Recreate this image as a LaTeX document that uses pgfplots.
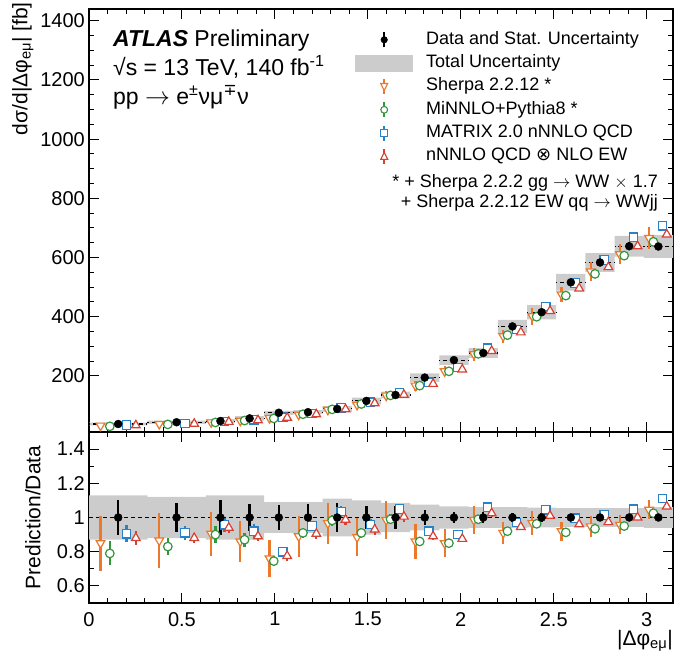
\documentclass[border=0pt]{standalone}
\usepackage{fontspec}
\setmainfont{Liberation Sans}
\newfontfamily\dejavu{DejaVu Sans}
\usepackage{pgfplots}
\pgfplotsset{compat=1.18}
\usepackage{pgfplotstable}
\usepgfplotslibrary{fillbetween}

\definecolor{cSh}{RGB}{236,120,44}
\definecolor{cMi}{RGB}{50,150,60}
\definecolor{cMa}{RGB}{40,130,200}
\definecolor{cNN}{RGB}{215,65,50}

\pgfplotstableread{
x hw d s xs xg xb xr rs es rg eg rb eb rr er ps pg pb pr one
0.157 0.157 37 0.10 0.062 0.112 0.202 0.252 0.85 0.16 0.79 0.07 0.905 0.05 0.88 0.04 31.5 29.2 33.5 32.6 1
0.471 0.157 43 0.085 0.378 0.424 0.516 0.566 0.865 0.16 0.83 0.05 0.91 0.04 0.88 0.03 37.2 35.7 39.1 37.8 1
0.707 0.0785 47 0.10 0.657 0.680 0.729 0.752 0.905 0.13 0.90 0.05 0.957 0.04 0.94 0.03 42.5 42.3 45.0 44.2 1
0.864 0.0785 56 0.08 0.814 0.837 0.886 0.909 0.86 0.12 0.87 0.04 0.92 0.04 0.89 0.03 48.2 48.7 51.5 49.8 1
1.021 0.0785 75 0.072 0.971 0.994 1.043 1.066 0.76 0.11 0.745 0.03 0.80 0.03 0.775 0.03 57.0 55.9 60.0 58.1 1
1.178 0.0785 77 0.078 1.128 1.151 1.200 1.223 0.89 0.12 0.91 0.03 0.95 0.03 0.905 0.03 68.5 70.1 73.2 69.7 1
1.335 0.0785 88 0.085 1.285 1.308 1.357 1.380 0.967 0.12 0.983 0.03 1.035 0.03 0.987 0.03 85.1 86.5 91.1 86.9 1
1.492 0.0785 115 0.066 1.442 1.465 1.514 1.537 0.885 0.11 0.91 0.03 0.96 0.03 0.93 0.03 101.8 104.7 110.4 107.0 1
1.649 0.0785 135 0.07 1.599 1.622 1.671 1.694 0.985 0.11 0.99 0.03 1.05 0.03 1.005 0.03 133.0 133.7 141.8 135.7 1
1.806 0.0785 194 0.045 1.756 1.779 1.828 1.851 0.86 0.10 0.86 0.025 0.92 0.025 0.89 0.02 166.8 166.8 178.5 172.7 1
1.963 0.0785 253 0.035 1.913 1.936 1.985 2.008 0.85 0.08 0.85 0.02 0.90 0.02 0.875 0.02 215.1 215.1 227.7 221.4 1
2.121 0.0785 277 0.03 2.071 2.094 2.143 2.166 0.985 0.08 0.99 0.02 1.06 0.02 1.025 0.02 272.8 274.2 293.6 283.9 1
2.278 0.0785 367 0.025 2.228 2.251 2.300 2.323 0.91 0.065 0.92 0.02 0.97 0.02 0.945 0.015 334.0 337.6 356.0 346.8 1
2.435 0.0785 415 0.025 2.385 2.408 2.457 2.480 0.967 0.07 0.963 0.02 1.045 0.02 1.01 0.015 401.3 399.6 433.7 419.2 1
2.592 0.0785 516 0.02 2.542 2.565 2.614 2.637 0.92 0.055 0.913 0.015 0.996 0.015 0.96 0.015 474.7 471.1 513.9 495.4 1
2.749 0.0785 583 0.02 2.699 2.722 2.771 2.794 0.948 0.06 0.934 0.015 1.015 0.015 0.973 0.015 552.7 544.5 591.7 567.3 1
2.906 0.0785 638 0.02 2.856 2.879 2.928 2.951 0.957 0.055 0.95 0.015 1.048 0.015 1.0 0.015 610.6 606.1 668.6 638.0 1
3.063 0.0785 637 0.02 3.013 3.036 3.085 3.108 1.045 0.055 1.025 0.015 1.11 0.015 1.064 0.015 665.7 652.9 707.1 677.8 1
}\tab

\pgfplotstableread{
xl tlo thi rlo rhi
0 32.2 41.8 0.87 1.13
0.3142 37.8 48.2 0.88 1.12
0.6283 40.9 53.1 0.87 1.13
0.7854 48.7 63.3 0.87 1.13
0.9425 68.3 81.8 0.91 1.09
1.0996 70.1 83.9 0.91 1.09
1.2566 78.3 97.7 0.89 1.11
1.4137 103.5 126.5 0.90 1.10
1.5708 123.5 146.5 0.915 1.085
1.7279 179.5 208.5 0.925 1.075
1.8850 236.6 269.4 0.935 1.065
2.0420 260.4 293.6 0.94 1.06
2.1991 345.0 389.0 0.94 1.06
2.3562 390.9 439.1 0.942 1.058
2.5133 487.6 544.4 0.945 1.055
2.6704 550.9 615.1 0.945 1.055
2.8274 602.9 673.1 0.945 1.055
2.9845 598.8 675.2 0.94 1.06
3.1416 598.8 675.2 0.94 1.06
}\band

\pgfplotsset{
  common/.style={
    scale only axis, width=584pt,
    xmin=0, xmax=3.1416,
    xtick={0,0.5,1,1.5,2,2.5,3}, minor x tick num=4,
    tick align=inside,
    major tick length=10pt, minor tick length=5pt,
    every tick/.style={black, line width=1pt},
    axis line style={line width=1.3pt},
    tick label style={font=\fontsize{20}{24}\selectfont, inner sep=0pt},
    yticklabel style={xshift=-4pt},
    xticklabel style={yshift=-9pt},
    /pgf/number format/assume math mode=true,
    /pgf/number format/1000 sep={},
    clip=false,
  },
  ebar/.style={error bars/y dir=both, error bars/error mark=none,
    error bars/error bar style={line width=#1}},
  shmk/.style={cSh, only marks, mark=triangle*, mark size=5pt, mark options={rotate=180, fill=white, line width=1.2pt}, ebar=2.2pt},
  mimk/.style={cMi, only marks, mark=*, mark size=4.3pt, mark options={fill=white, line width=1.2pt}, ebar=2.2pt},
  mamk/.style={cMa, only marks, mark=square*, mark size=4.2pt, mark options={fill=white, line width=1.2pt}, ebar=2.2pt},
  nnmk/.style={cNN, only marks, mark=triangle*, mark size=5pt, mark options={fill=white, line width=1.2pt}, ebar=2.2pt},
  dtmk/.style={black, only marks, mark=*, mark size=4pt, ebar=2.4pt},
}

\begin{document}
\begin{tikzpicture}
% ---------------- top panel
\begin{axis}[common, at={(89pt,232pt)}, anchor=south west, height=423pt,
  ymin=10, ymax=1440, ytick={200,400,600,800,1000,1200,1400}, minor y tick num=3,
  xticklabels={},
  legend style={at={(axis description cs:0.4555,0.948)}, anchor=north west, draw=none, fill=none,
    inner sep=0pt, font=\fontsize{18}{21}\selectfont, row sep=6.3pt,
    nodes={inner sep=0pt, text height=13pt, text depth=4pt},
    /tikz/every odd column/.style={column sep=13pt}},
  legend cell align=left]
\addlegendimage{legend image code/.code={\path[draw=none,fill=none] (0pt,-8pt) rectangle (58pt,8pt);
  \draw[black,line width=2.2pt] (29pt,-7.5pt)--(29pt,7.5pt); \fill[black] (29pt,0pt) circle (3.3pt);}}
\addlegendimage{legend image code/.code={\fill[gray!40, draw=none] (0pt,-8.5pt) rectangle (58pt,8.5pt);}}
\addlegendimage{legend image code/.code={\path[draw=none,fill=none] (0pt,-8pt) rectangle (58pt,8pt);
  \draw[cSh,line width=1.8pt] (29pt,-7.5pt)--(29pt,7.5pt);
  \filldraw[draw=cSh, fill=white, line width=1.1pt] (25.5pt,3pt)--(32.5pt,3pt)--(29pt,-4pt)--cycle;}}
\addlegendimage{legend image code/.code={\path[draw=none,fill=none] (0pt,-8pt) rectangle (58pt,8pt);
  \draw[cMi,line width=1.8pt] (29pt,-7.5pt)--(29pt,7.5pt);
  \filldraw[draw=cMi, fill=white, line width=1.1pt] (29pt,0pt) circle (3.4pt);}}
\addlegendimage{legend image code/.code={\path[draw=none,fill=none] (0pt,-8pt) rectangle (58pt,8pt);
  \draw[cMa,line width=1.8pt] (29pt,-7.5pt)--(29pt,7.5pt);
  \filldraw[draw=cMa, fill=white, line width=1.1pt] (25.7pt,-3.3pt) rectangle (32.3pt,3.3pt);}}
\addlegendimage{legend image code/.code={\path[draw=none,fill=none] (0pt,-8pt) rectangle (58pt,8pt);
  \draw[cNN,line width=1.8pt] (29pt,-7.5pt)--(29pt,7.5pt);
  \filldraw[draw=cNN, fill=white, line width=1.1pt] (25.5pt,-3pt)--(32.5pt,-3pt)--(29pt,4pt)--cycle;}}
\addplot[draw=none, name path=thi, const plot, forget plot] table[x=xl, y=thi] {\band};
\addplot[draw=none, name path=tlo, const plot, forget plot] table[x=xl, y=tlo] {\band};
\addplot[fill=gray!40, draw=none, forget plot] fill between[of=thi and tlo];
\addplot[only marks, mark=*, mark size=0pt, forget plot, error bars/x dir=both, error bars/x explicit, error bars/error mark=none,
  error bars/error bar style={black, line width=1.1pt, dash pattern=on 4pt off 3pt}] table[x=x, y=d, x error=hw] {\tab};
\addplot[shmk, forget plot, error bars/y explicit relative] table[x=xs, y=ps, y error=es] {\tab};
\addplot[mimk, forget plot, error bars/y explicit relative] table[x=xg, y=pg, y error=eg] {\tab};
\addplot[mamk, forget plot, error bars/y explicit relative] table[x=xb, y=pb, y error=eb] {\tab};
\addplot[nnmk, forget plot, error bars/y explicit relative] table[x=xr, y=pr, y error=er] {\tab};
\addplot[dtmk, forget plot, error bars/y explicit relative] table[x=x, y=d, y error=s] {\tab};
\legend{Data and Stat. Uncertainty, Total Uncertainty, Sherpa 2.2.12 *, MiNNLO+Pythia8 *, MATRIX 2.0 nNNLO QCD, nNNLO QCD {\dejavu ⊗} NLO EW}
\node[anchor=base west, font=\fontsize{23}{28}\selectfont, inner sep=0pt] at (axis description cs:0.041,0.911) {\textbf{\textit{ATLAS}} Preliminary};
\node[anchor=base west, font=\fontsize{23}{28}\selectfont, inner sep=0pt] at (axis description cs:0.041,0.842) {√s = 13 TeV, 140 fb\textsuperscript{-1}};
\node[anchor=base west, font=\fontsize{23}{28}\selectfont, inner sep=0pt] at (axis description cs:0.041,0.774) {pp $\rightarrow$ e\textsuperscript{±}νμ\textsuperscript{\dejavu ∓}ν};
\node[anchor=north east, align=right, font=\fontsize{18}{20}\selectfont, inner sep=0pt] at (axis description cs:0.9743,0.6095) {* + Sherpa 2.2.2 gg $\rightarrow$ WW $\times$ 1.7\\+ Sherpa 2.2.12 EW qq $\rightarrow$ WWjj};
\node[rotate=90, anchor=north east, font=\fontsize{21}{24}\selectfont, inner sep=0pt] at (axis description cs:-0.1318,1.0165) {dσ/d|Δφ\textsubscript{eμ}| [fb]};
\end{axis}
% ---------------- ratio panel
\begin{axis}[common, at={(89pt,61pt)}, anchor=south west, height=171pt,
  ymin=0.5, ymax=1.5, ytick={0.6,0.8,1,1.2,1.4}, yticklabels={0.6,0.8,1,1.2,1.4}, minor y tick num=1,
  xticklabels={0,0.5,1,1.5,2,2.5,3}]
\addplot[draw=none, name path=rhi, const plot] table[x=xl, y=rhi] {\band};
\addplot[draw=none, name path=rlo, const plot] table[x=xl, y=rlo] {\band};
\addplot[fill=gray!40, draw=none] fill between[of=rhi and rlo];
\addplot[black, line width=1.1pt, dash pattern=on 4pt off 3pt] coordinates {(0,1) (3.1416,1)};
\addplot[shmk, error bars/y explicit] table[x=xs, y=rs, y error=es] {\tab};
\addplot[mimk, error bars/y explicit] table[x=xg, y=rg, y error=eg] {\tab};
\addplot[mamk, error bars/y explicit] table[x=xb, y=rb, y error=eb] {\tab};
\addplot[nnmk, error bars/y explicit] table[x=xr, y=rr, y error=er] {\tab};
\addplot[dtmk, error bars/y explicit] table[x=x, y=one, y error=s] {\tab};
\node[rotate=90, anchor=north, font=\fontsize{21}{24}\selectfont, inner sep=0pt] at (axis description cs:-0.1096,0.5) {Prediction/Data};
\node[anchor=north east, font=\fontsize{21}{24}\selectfont, inner sep=0pt] at (axis description cs:1,-0.158) {|Δφ\textsubscript{eμ}|};
\end{axis}
\pgfresetboundingbox
\useasboundingbox (0,0) rectangle (674pt,664pt);
\end{tikzpicture}
\end{document}
